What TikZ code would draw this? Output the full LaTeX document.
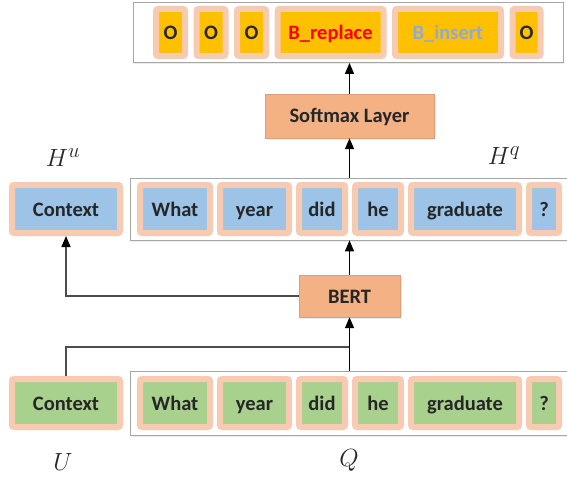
\documentclass[tikz,border=0pt]{standalone}
\usepackage{fontspec}
\newfontfamily\cellfont{Carlito}
\usetikzlibrary{positioning,fit,calc,arrows.meta,shadows,backgrounds}

\definecolor{tagorange}{HTML}{FFC000}
\definecolor{glow}{HTML}{F6CBB2}
\definecolor{layerorange}{HTML}{F4B183}
\definecolor{ctxblue}{HTML}{9DC3E6}
\definecolor{ctxgreen}{HTML}{A9D18E}
\definecolor{framegray}{HTML}{A6A6A6}
\definecolor{linegray}{HTML}{4D4D4D}
\definecolor{insertblue}{HTML}{8EA9DB}

\tikzset{
  cell/.style = {draw=glow, line width=6pt, rounded corners=2pt,
                 minimum height=48pt, inner sep=0pt, text=black!85,
                 text height=15pt, text depth=1pt,
                 font=\cellfont\bfseries\fontsize{20.5}{24}\selectfont},
  tag/.style = {cell, fill=tagorange, minimum height=47pt},
  layer/.style = {fill=layerorange, draw=layerorange!90!black, line width=0.4pt,
                  inner sep=0pt, text=black!85,
                  text height=15pt, text depth=1pt,
                  font=\cellfont\bfseries\fontsize{20.5}{24}\selectfont,
                  drop shadow={shadow xshift=1.5pt, shadow yshift=-1.5pt,
                               opacity=0.35, fill=ctxblue!70}},
  frame/.style = {draw=framegray, line width=0.8pt, fill=white,
                  drop shadow={shadow xshift=0pt, shadow yshift=-2pt,
                               opacity=0.3, fill=black!25}},
  mathlbl/.style = {inner sep=0pt, text=black!85,
                    font=\fontsize{24.88}{30}\selectfont},
  arr/.style = {-{Triangle[width=9pt,length=11pt]}, line width=1.4pt, black},
  elbow/.style = {line width=2pt, draw=linegray}
}

\begin{document}
\begin{tikzpicture}[x=1pt, y=-1pt]
  \useasboundingbox (0,0) rectangle (567,484);

  \node[tag, minimum width=29pt] (t1) at (170.5,32.5) {O};
  \node[tag, minimum width=29pt, right=5.5pt of t1] (t2) {O};
  \node[tag, minimum width=29pt, right=5.5pt of t2] (t3) {O};
  \node[tag, minimum width=106pt, right=5.5pt of t3, text=red] (t4) {B\_replace};
  \node[tag, minimum width=106pt, right=5.5pt of t4, text=insertblue] (t5) {B\_insert};
  \node[tag, minimum width=28pt, right=5.5pt of t5] (t6) {O};

  \node[layer, minimum width=169pt, minimum height=44pt] (softmax) at (349.5,116) {Softmax Layer};

  \node[cell, fill=ctxblue, minimum width=108pt] (hu) at (66,209) {Context};
  \node[cell, fill=ctxblue, minimum width=70pt] (hq1) at (175,209) {What};
  \node[cell, fill=ctxblue, minimum width=69pt, right=4pt of hq1] (hq2) {year};
  \node[cell, fill=ctxblue, minimum width=46pt, right=4pt of hq2] (hq3) {did};
  \node[cell, fill=ctxblue, minimum width=46pt, right=4pt of hq3] (hq4) {he};
  \node[cell, fill=ctxblue, minimum width=108pt, right=4pt of hq4] (hq5) {graduate};
  \node[cell, fill=ctxblue, minimum width=30pt, right=4pt of hq5] (hq6) {?};

  \node[layer, minimum width=101pt, minimum height=42pt] (bert) at (349.5,296) {BERT};

  \node[cell, fill=ctxgreen, minimum width=108pt] (u) at (66,403) {Context};
  \node[cell, fill=ctxgreen, minimum width=70pt] (q1) at (175,403) {What};
  \node[cell, fill=ctxgreen, minimum width=69pt, right=4pt of q1] (q2) {year};
  \node[cell, fill=ctxgreen, minimum width=46pt, right=4pt of q2] (q3) {did};
  \node[cell, fill=ctxgreen, minimum width=46pt, right=4pt of q3] (q4) {he};
  \node[cell, fill=ctxgreen, minimum width=108pt, right=4pt of q4] (q5) {graduate};
  \node[cell, fill=ctxgreen, minimum width=30pt, right=4pt of q5] (q6) {?};

  \begin{scope}[on background layer]
    \node[frame, fit=(t1) (t6), inner xsep=20pt, inner ysep=3.5pt] (tagframe) {};
    \node[frame, fit=(hq1) (hq6), inner xsep=6.5pt, inner ysep=4pt] (hqframe) {};
    \node[frame, fit=(q1) (q6), inner xsep=6.5pt, inner ysep=5pt] (qframe) {};
  \end{scope}

  \node[mathlbl] (hulbl) at ($(hu.north)+(-3,-24)$) {$H^{u}$};
  \node[mathlbl] (hqlbl) at ($(hq5.north)+(39,-26)$) {$H^{q}$};
  \node[mathlbl] (ulbl) at ($(u.south)+(-3,32)$) {$U$};
  \node[mathlbl] (qlbl) at ($(q4.south)+(-29,30)$) {$Q$};

  \coordinate (merge) at ($(bert.south)!0.55!(qframe.north -| bert.south)$);

  \draw[elbow] (u.north) |- (merge);
  \draw[arr] (qframe.north -| bert.south) -- (bert.south);
  \draw[elbow] (bert.west) -| ($(hu.south)+(0,6)$);
  \draw[arr] ($(hu.south)+(0,8)$) -- (hu.south);
  \draw[arr] (bert.north) -- (bert.north |- hqframe.south);
  \draw[arr] (hqframe.north -| softmax.south) -- (softmax.south);
  \draw[arr] (softmax.north) -- (softmax.north |- tagframe.south);
\end{tikzpicture}
\end{document}
